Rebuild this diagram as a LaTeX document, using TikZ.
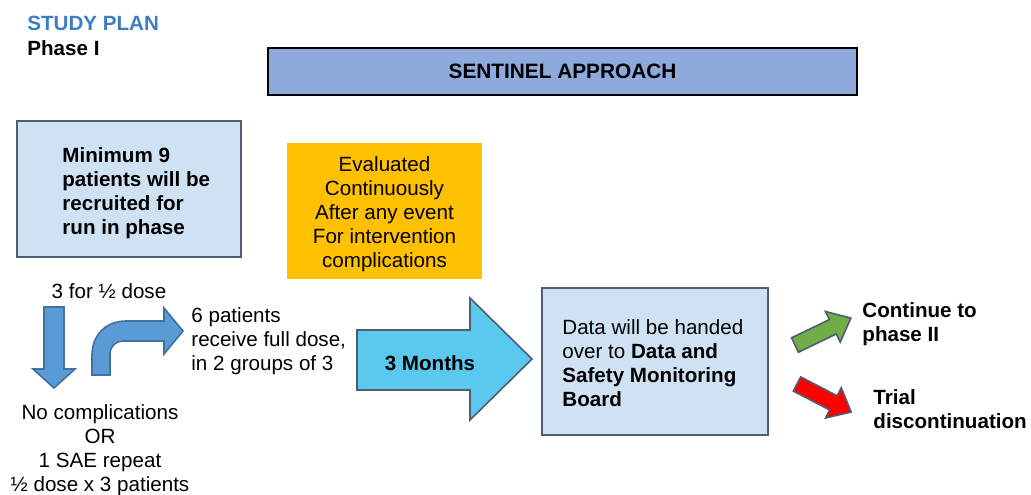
\documentclass[tikz,border=0pt]{standalone}
\usepackage{fontspec}
\setmainfont{Liberation Sans}
\usepackage{tikz}
\usetikzlibrary{positioning}

\definecolor{planblue}{HTML}{3C7DC4}
\definecolor{headfill}{HTML}{8EA9DB}
\definecolor{boxfill}{HTML}{CFE2F3}
\definecolor{boxline}{HTML}{4D5D72}
\definecolor{evalfill}{HTML}{FFC000}
\definecolor{arrowfill}{HTML}{5B9BD5}
\definecolor{arrowline}{HTML}{41719C}
\definecolor{monthfill}{HTML}{5BC8EE}
\definecolor{okfill}{HTML}{70AD47}
\definecolor{stopfill}{HTML}{FF0000}

\begin{document}
\begin{tikzpicture}[x=0.5pt, y=-0.5pt,
    txt/.style = {inner sep=0pt, font=\fontsize{10.3}{12}\selectfont},
    btxt/.style = {txt, font=\fontsize{10.3}{12}\selectfont\bfseries},
    infobox/.style = {draw=boxline, line width=1pt, fill=boxfill},
    blockarrow/.style = {draw=arrowline, line width=0.8pt, fill=arrowfill},
    smallarrow/.style = {draw=boxline, line width=0.8pt}]
        \useasboundingbox (0,0) rectangle (1031,494);
        % header
        \node[btxt, text=planblue, anchor=west] (plan) at (27,23) {STUDY PLAN};
        \node[btxt, anchor=west] (phase) at (27,48) {Phase I};
        \node[draw=black, line width=1.2pt, fill=headfill, minimum width=294.5pt, minimum height=23.5pt,
              font=\fontsize{10.4}{12}\selectfont\bfseries] (sentinel) at (562.5,71.5) {SENTINEL APPROACH};
        % boxes
        \node[infobox, minimum width=112pt, minimum height=68pt] (minbox) at (129,189) {};
        \node[btxt, anchor=west, align=left] (mintext) at (62,193)
            {Minimum 9\\patients will be\\recruited for\\run in phase};
        \node[fill=evalfill, minimum width=97.5pt, minimum height=68pt] (eval) at (384.5,211) {};
        \node[txt, align=center] (evaltext) at (384.5,214)
            {Evaluated\\Continuously\\After any event\\For intervention\\complications};
        \node[infobox, minimum width=113pt, minimum height=73.5pt] (dsmb) at (655,361.5) {};
        \node[txt, anchor=west, align=left] (dsmbtext) at (562,363.5)
            {Data will be handed\\over to \textbf{Data and}\\\textbf{Safety Monitoring}\\\textbf{Board}};
        % run in phase
        \node[txt] (half) at (109,291) {3 for ½ dose};
        \node[txt, anchor=west, align=left] (full) at (191,341) {6 patients\\receive full dose,\\in 2 groups of 3};
        \node[txt, align=center] (nocomp) at (100,450)
            {No complications\\OR\\1 SAE repeat\\½ dose x 3 patients};
        \draw[blockarrow] (44,307) -- (64,307) -- (64,369) -- (75,369) -- (54,388) -- (33,369) -- (44,369) -- cycle;
        \draw[blockarrow] (92,375) -- (92,355) .. controls (92,335) and (106,321) .. (126,321)
            -- (164,321) -- (164,308) -- (183,331) -- (164,354) -- (164,341) -- (123,341)
            .. controls (116,341) and (110,346) .. (110,354) -- (110,375) -- cycle;
        % three months
        \draw[blockarrow, draw=boxline, fill=monthfill] (357,330) -- (470,330) -- (470,298) -- (532,359)
            -- (470,420) -- (470,390) -- (357,390) -- cycle;
        \node[btxt] (months) at (430,363) {3 Months};
        % outcomes
        \draw[smallarrow, fill=okfill, shift={(795,345)}, rotate=25.7]
            (0,-8) -- (42,-8) -- (42,-17) -- (62,0) -- (42,17) -- (42,8) -- (0,8) -- cycle;
        \draw[smallarrow, fill=stopfill, shift={(797,384)}, rotate=-27.4]
            (0,-8) -- (41,-8) -- (41,-17) -- (61,0) -- (41,17) -- (41,8) -- (0,8) -- cycle;
        \node[btxt, anchor=west, align=left] (cont) at (862,324) {Continue to\\phase II};
        \node[btxt, anchor=west, align=left] (stop) at (873,409) {Trial\\discontinuation};
\end{tikzpicture}
\end{document}
